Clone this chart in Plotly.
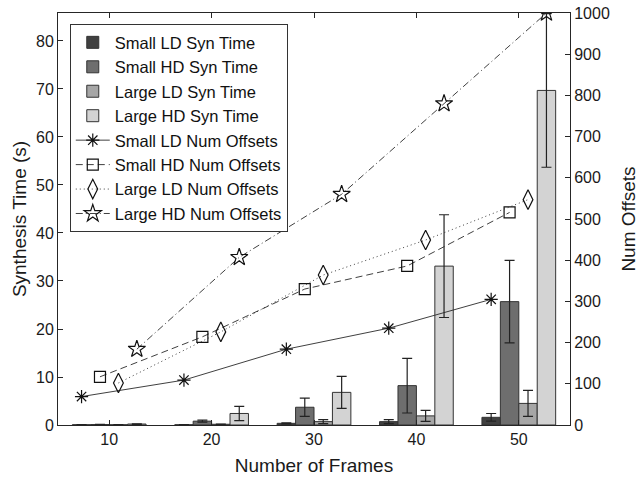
import plotly.graph_objects as go

frames = [10, 20, 30, 40, 50]
group_index = [1, 2, 3, 4, 5]

bar_names = ["Small LD Syn Time", "Small HD Syn Time", "Large LD Syn Time", "Large HD Syn Time"]
small_ld_time = [0.05, 0.05, 0.35, 0.7, 1.6]
small_hd_time = [0.1, 0.8, 3.7, 8.2, 25.7]
large_ld_time = [0.05, 0.15, 0.7, 1.9, 4.5]
large_hd_time = [0.2, 2.4, 6.8, 33.1, 69.7]

small_ld_err = [0.03, 0.03, 0.1, 0.4, 0.8]
small_hd_err = [0.05, 0.2, 1.9, 5.7, 8.6]
large_ld_err = [0.03, 0.05, 0.4, 1.15, 2.7]
large_hd_err = [0.05, 1.5, 3.35, 10.7, 16.0]

line_names = ["Small LD Num Offsets", "Small HD Num Offsets", "Large LD Num Offsets", "Large HD Num Offsets"]
small_ld_off = [69, 109, 184, 235, 305]
small_hd_off = [117, 214, 330, 386, 516]
large_ld_off = [102, 226, 364, 449, 547]
large_hd_off = [184, 407, 560, 780, 1000]

bar_colors = ["#404040", "#6e6e6e", "#a6a6a6", "#d3d3d3"]
times = [small_ld_time, small_hd_time, large_ld_time, large_hd_time]
errs = [small_ld_err, small_hd_err, large_ld_err, large_hd_err]
offsets = [small_ld_off, small_hd_off, large_ld_off, large_hd_off]

bargap = 0.28
n_bars = 4
bar_w = (1 - bargap) / n_bars
bar_shift = [(-(n_bars - 1) / 2 + k) * bar_w for k in range(n_bars)]

fig = go.Figure()
for name, t, e, c in zip(bar_names, times, errs, bar_colors):
    fig.add_trace(go.Bar(
        x=group_index, y=t, name=name,
        marker=dict(color=c, line=dict(color="#333333", width=1)),
        error_y=dict(type="data", array=e, visible=True, color="#222222", thickness=1.2, width=5),
        yaxis="y",
    ))

markers = ["asterisk-open", "square-open", "diamond-tall-open", "star-open"]
msizes = [11, 11, 14, 13]
dashes = ["solid", "7px,4px", "1px,3px", "7px,3px,1px,3px"]
for k, (name, o, m, s, d) in enumerate(zip(line_names, offsets, markers, msizes, dashes)):
    fig.add_trace(go.Scatter(
        x=[g + bar_shift[k] for g in group_index], y=o, name=name,
        mode="lines+markers",
        line=dict(color="#2a2a2a", width=0.9, dash=d),
        marker=dict(symbol=m, size=s, color="#111111", line=dict(color="#111111", width=1.2)),
        yaxis="y2",
    ))

font_family = "Liberation Sans, Arial, sans-serif"
axis_color = "#262626"
fig.update_layout(
    width=642, height=481,
    margin=dict(l=58, r=72, t=13, b=56),
    paper_bgcolor="white", plot_bgcolor="white",
    barmode="group", bargap=bargap, bargroupgap=0,
    font=dict(family=font_family, size=16, color="#1a1a1a"),
    showlegend=True,
    legend=dict(
        x=0.023, y=0.973, xanchor="left", yanchor="top",
        bgcolor="white", bordercolor="#333333", borderwidth=1,
        font=dict(size=16.5, family=font_family, color="#111111"),
        tracegroupgap=0, itemwidth=34,
    ),
    xaxis=dict(
        range=[0.5, 5.5], tickmode="array", tickvals=group_index, ticktext=[str(f) for f in frames],
        showline=True, linecolor=axis_color, linewidth=1, mirror="ticks",
        ticks="inside", ticklen=5, tickcolor=axis_color, showgrid=False, zeroline=False,
        title=dict(text="Number of Frames", font=dict(size=19), standoff=11),
        tickfont=dict(size=16), automargin=False,
    ),
    yaxis=dict(
        range=[0, 85.83], tickmode="linear", tick0=0, dtick=10,
        showline=True, linecolor=axis_color, linewidth=1,
        ticks="inside", ticklen=5, tickcolor=axis_color, showgrid=False, zeroline=False,
        title=dict(text="Synthesis Time (s)", font=dict(size=19), standoff=4),
        tickfont=dict(size=16), automargin=False,
    ),
    yaxis2=dict(
        range=[0, 1000], tickmode="linear", tick0=0, dtick=100,
        overlaying="y", side="right",
        showline=True, linecolor=axis_color, linewidth=1,
        ticks="inside", ticklen=5, tickcolor=axis_color, showgrid=False, zeroline=False,
        title=dict(text="Num Offsets", font=dict(size=19), standoff=12),
        tickfont=dict(size=16), automargin=False,
    ),
)

fig.write_html("out.html")
